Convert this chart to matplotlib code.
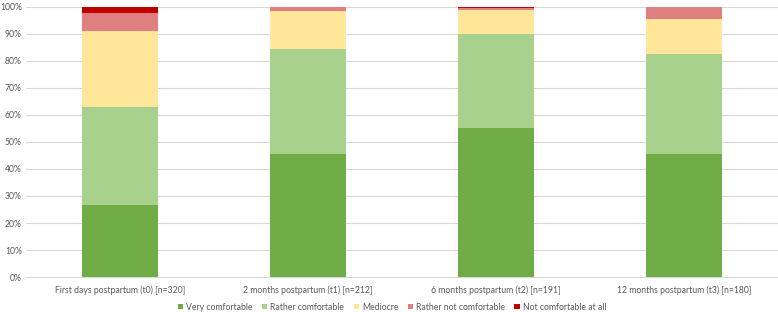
import matplotlib.pyplot as plt
import numpy as np
from matplotlib.ticker import PercentFormatter

plt.rcParams['font.family'] = ['Lato', 'DejaVu Sans']

"""Data"""
categories = ["First days postpartum (t0) [n=320]",
              "2 months postpartum (t1) [n=212]",
              "6 months postpartum (t2) [n=191]",
              "12 months postpartum (t3) [n=180]"]
very_comf = [26.6, 45.6, 55.1, 45.6]
rather_comf = [36.5, 38.7, 35.0, 37.0]
mediocre = [28.1, 14.3, 8.8, 13.0]
rather_not = [6.4, 1.4, 0.6, 4.4]
not_at_all = [2.4, 0.0, 0.5, 0.0]

series = [("Very comfortable", very_comf, "#70AD47"),
          ("Rather comfortable", rather_comf, "#A9D18E"),
          ("Mediocre", mediocre, "#FFE699"),
          ("Rather not comfortable", rather_not, "#E07F7F"),
          ("Not comfortable at all", not_at_all, "#C00000")]

"""Plot"""
fig = plt.figure(figsize=(7.78, 3.12), dpi=100)
ax = fig.add_axes([0.0334, 0.112, 0.9666, 0.866])
x = np.arange(len(categories))
bottom = np.zeros(len(categories))
for name, vals, col in series:
    ax.bar(x, vals, 0.405, bottom=bottom, color=col, label=name, zorder=3)
    bottom += np.array(vals)

ax.set_xlim(-0.5, len(categories) - 0.5)
ax.set_ylim(0, 100)
ax.set_yticks(np.arange(0, 101, 10))
ax.yaxis.set_major_formatter(PercentFormatter(decimals=0))
ax.set_xticks(x)
ax.set_xticklabels(categories)
ax.grid(axis='y', color='#D9D9D9', linewidth=0.8, zorder=0)
for s in ['top', 'right', 'left']:
    ax.spines[s].set_visible(False)
ax.spines['bottom'].set_color('#D9D9D9')
ax.tick_params(length=0, labelsize=6.2, colors='#595959', pad=6)
ax.tick_params(axis='y', pad=3)

fig.legend(loc='center', bbox_to_anchor=(392 / 778, 0.016), ncol=5, frameon=False,
           fontsize=6.2, labelcolor='#595959', handlelength=0.6, handleheight=0.6,
           handletextpad=0.35, columnspacing=1.1, borderpad=0, borderaxespad=0)

fig.savefig("out.png", dpi=100)
print("end of script")
